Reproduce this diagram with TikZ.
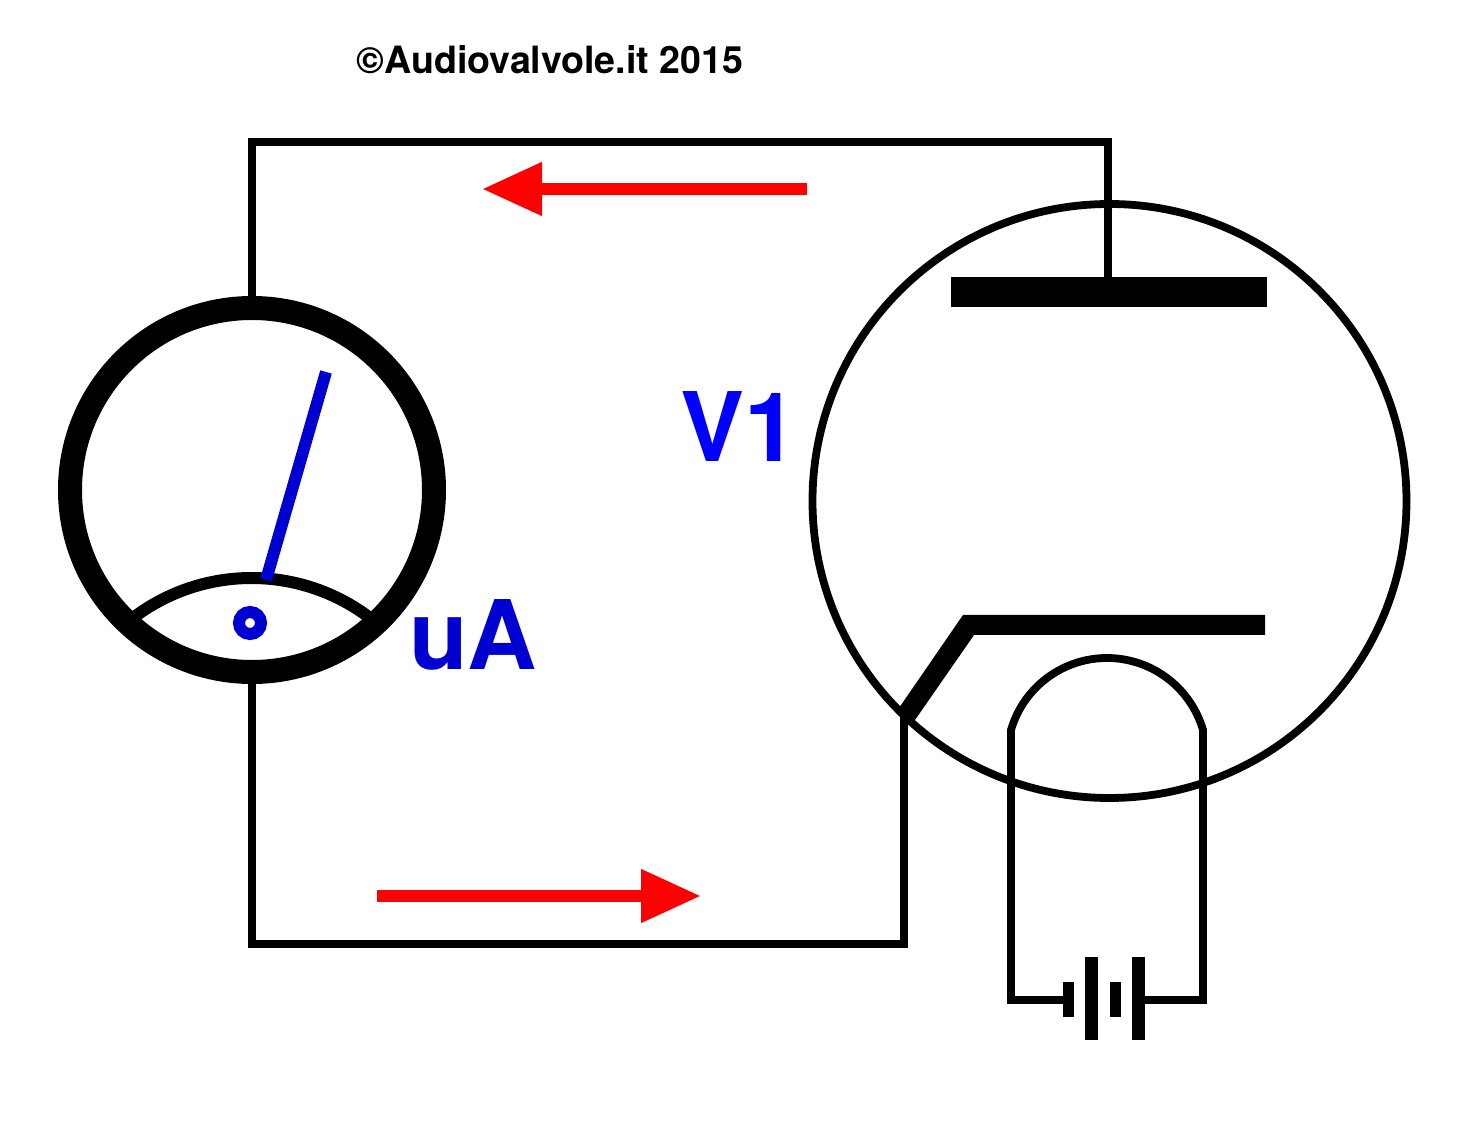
\documentclass[tikz,border=0pt]{standalone}
\usepackage{fontspec}
\setmainfont{TeX Gyre Heros}
\usetikzlibrary{arrows.meta}
\definecolor{labelblue}{RGB}{0,0,208}
\definecolor{brightblue}{RGB}{0,0,255}
\tikzset{
  wire/.style={line width=3.9pt,draw=black,miter limit=10},
  ring/.style={circle,draw=black,inner sep=0pt},
  plate/.style={fill=black,draw=none,inner sep=0pt,outer sep=0pt},
  flow/.style={draw=red,line width=6pt,-{Triangle[length=30pt,width=25.3pt,fill=red]}},
  bluetext/.style={font=\fontsize{48}{48}\selectfont\bfseries,inner sep=0pt},
}
\begin{document}
\begin{tikzpicture}[x=0.5pt,y=0.5pt]
\useasboundingbox (0,0) rectangle (1464,-1122);
\fill[white] (0,0) rectangle (1464,-1122);

\node[inner sep=0pt,font=\fontsize{18.8}{18.8}\selectfont\bfseries] (copy) at (550,-60) {©Audiovalvole.it 2015};

% meter scale arc
\draw[line width=6pt] (251.5,-773.7) ++(128:195.7) arc [start angle=128,end angle=52,radius=195.7];
% meter
\node[ring,line width=12pt,minimum size=182pt] (meter) at (252,-490) {};
\node[circle,draw=labelblue,line width=6pt,minimum size=11pt,inner sep=0pt] (pivot) at (250,-623) {};
\coordinate (needletip) at (326,-372);
\coordinate (needlebase) at (266,-580);
\draw[draw=labelblue,line width=6pt] (needlebase) -- (needletip);
\node[bluetext,text=labelblue] (ua) at (473,-634.5) {uA};

% tube
\node[ring,line width=3.9pt,minimum size=297pt] (tube) at (1109.5,-501) {};
\node[plate,minimum width=158pt,minimum height=15pt] (anode) at (1109,-292) {};
\node[bluetext,text=brightblue] (v1) at (739.5,-426.5) {V1};
\coordinate (tl) at (252,-142);
\coordinate (tr) at (1108,-142);
\coordinate (bl) at (252,-944);
\coordinate (br) at (904,-944);
\coordinate (cathodefoot) at (904,-716);
\draw[wire] (meter.north) -- (tl) -- (tr) -- (tr |- anode.north);
\draw[wire] (meter.south) -- (bl) -- (br) -- (cathodefoot);
\fill[black] (963,-615) -- (1265,-615) -- (1265,-635) -- (974,-635) -- (915,-720) -- (908,-722) -- (899,-708) -- cycle;

% battery
\node[plate,minimum width=5.5pt,minimum height=17.5pt] (b1) at (1068.5,-999.5) {};
\node[plate,minimum width=6.5pt,minimum height=41.5pt] (b2) at (1091.5,-998.5) {};
\node[plate,minimum width=5.5pt,minimum height=17.5pt] (b3) at (1115.5,-999.5) {};
\node[plate,minimum width=6.5pt,minimum height=41.5pt] (b4) at (1138.5,-998.5) {};
\coordinate (hl) at (1011,-1000);
\coordinate (hr) at (1203,-1000);
\draw[wire] (b1.west |- hl) -- (hl) -- (1011,-730) arc [start angle=163.74,end angle=16.26,radius=100] -- (hr) -- (b4.east |- hr);

% flow arrows
\coordinate (a1s) at (807,-189);
\coordinate (a1e) at (482,-189);
\coordinate (a2s) at (377,-896);
\coordinate (a2e) at (701,-896);
\draw[flow] (a1s) -- (a1e);
\draw[flow] (a2s) -- (a2e);
\end{tikzpicture}
\end{document}
